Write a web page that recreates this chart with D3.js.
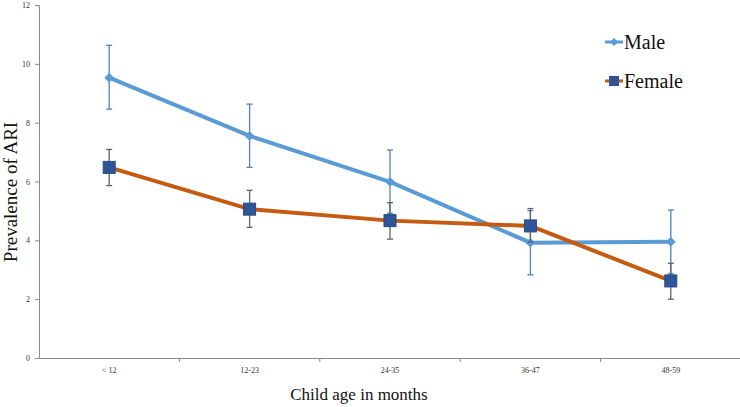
<!DOCTYPE html>
<html><head><meta charset="utf-8">
<script src="https://cdn.jsdelivr.net/npm/d3@7"></script>
<style>body{margin:0;background:#fff}svg{display:block}</style>
</head><body>
<svg id="c" width="740" height="407"></svg>
<script>
const categories = ["< 12", "12-23", "24-35", "36-47", "48-59"];
const maleValues = [9.53, 7.55, 5.99, 3.92, 3.95];
const maleErrLow = [8.46, 6.48, 4.92, 2.83, 2.87];
const maleErrHigh = [10.63, 8.63, 7.07, 5.01, 5.03];
const femaleValues = [6.48, 5.06, 4.67, 4.49, 2.62];
const femaleErrLow = [5.86, 4.44, 4.04, 3.94, 2.0];
const femaleErrHigh = [7.09, 5.70, 5.28, 5.08, 3.22];
const yTicks = [0, 2, 4, 6, 8, 10, 12];

const svg = d3.select("#c");
const x = d3.scaleBand().domain(categories).range([39, 741]);
const y = d3.scaleLinear().domain([0, 12]).range([358, 5]);
const font = "'Liberation Serif','Times New Roman',serif";
const axisCol = "#8a8a8a";

// y axis
const ya = svg.append("g").attr("transform", "translate(39,0)")
  .call(d3.axisLeft(y).tickValues(yTicks).tickSize(4).tickPadding(5));
ya.select(".domain").attr("stroke", axisCol);
ya.selectAll(".tick line").attr("stroke", axisCol);
ya.selectAll("text").attr("font-family", font).attr("font-size", 8).attr("fill", "#333");

// x axis
const xa = svg.append("g").attr("transform", "translate(0,358)")
  .call(d3.axisBottom(x).tickSize(0).tickPadding(9));
xa.select(".domain").attr("stroke", axisCol);
xa.selectAll("text").attr("font-family", font).attr("font-size", 8).attr("fill", "#333");
const bounds = categories.map(c => x(c)).concat([x(categories[categories.length-1]) + x.bandwidth()]);
xa.selectAll(".bt").data(bounds.slice(1)).enter().append("line")
  .attr("x1", d => d).attr("x2", d => d).attr("y1", 0).attr("y2", 4).attr("stroke", axisCol);

const cx = c => x(c) + x.bandwidth() / 2;

function errorBars(vals, lo, hi, col) {
  const g = svg.append("g");
  categories.forEach((c, i) => {
    const X = cx(c);
    g.append("line").attr("x1", X).attr("x2", X).attr("y1", y(lo[i])).attr("y2", y(hi[i])).attr("stroke", col).attr("stroke-width", 1.3);
    [lo[i], hi[i]].forEach(v => g.append("line").attr("x1", X - 3).attr("x2", X + 3).attr("y1", y(v)).attr("y2", y(v)).attr("stroke", col).attr("stroke-width", 1.3));
  });
}

const line = d3.line().x((d, i) => cx(categories[i])).y(d => y(d));

// male
errorBars(maleValues, maleErrLow, maleErrHigh, "#4f81bd");
svg.append("path").datum(maleValues).attr("d", line).attr("fill", "none")
  .attr("stroke", "#5b9bd5").attr("stroke-width", 4).attr("stroke-linejoin", "round");
svg.selectAll(".md").data(maleValues).enter().append("path")
  .attr("d", d3.symbol(d3.symbolDiamond2 || d3.symbolDiamond, 60))
  .attr("transform", (d, i) => `translate(${cx(categories[i])},${y(d)})`)
  .attr("fill", "#5b9bd5");

// female
errorBars(femaleValues, femaleErrLow, femaleErrHigh, "#5f6470");
svg.append("path").datum(femaleValues).attr("d", line).attr("fill", "none")
  .attr("stroke", "#c55a11").attr("stroke-width", 4).attr("stroke-linejoin", "round");
svg.selectAll(".fs").data(femaleValues).enter().append("rect")
  .attr("x", (d, i) => cx(categories[i]) - 6).attr("y", d => y(d) - 6)
  .attr("width", 12).attr("height", 12).attr("fill", "#2f5597").attr("stroke", "#254a88").attr("stroke-width", 1);

// legend
const lg = svg.append("g");
lg.append("line").attr("x1", 605).attr("x2", 623).attr("y1", 42).attr("y2", 42).attr("stroke", "#5b9bd5").attr("stroke-width", 3);
lg.append("path").attr("d", d3.symbol(d3.symbolDiamond2 || d3.symbolDiamond, 40)).attr("transform", "translate(614,42)").attr("fill", "#5b9bd5");
lg.append("text").attr("x", 624).attr("y", 49).text("Male").attr("font-family", font).attr("font-size", 20).attr("fill", "#111");
lg.append("line").attr("x1", 605).attr("x2", 623).attr("y1", 81).attr("y2", 81).attr("stroke", "#c55a11").attr("stroke-width", 3);
lg.append("rect").attr("x", 609).attr("y", 76).attr("width", 10).attr("height", 10).attr("fill", "#2f5597");
lg.append("text").attr("x", 624).attr("y", 88).text("Female").attr("font-family", font).attr("font-size", 20).attr("fill", "#111");

// axis titles
svg.append("text").attr("x", 359).attr("y", 400).attr("text-anchor", "middle")
  .attr("font-family", font).attr("font-size", 17).attr("fill", "#111").text("Child age in months");
svg.append("text").attr("transform", "translate(17,192) rotate(-90)").attr("text-anchor", "middle")
  .attr("font-family", font).attr("font-size", 19).attr("fill", "#111").text("Prevalence of ARI");
</script>
</body></html>
